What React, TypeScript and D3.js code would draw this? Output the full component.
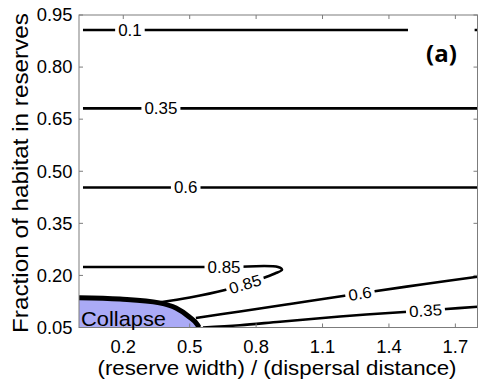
import React from 'react';
import * as d3 from 'd3';

type Pt = [number, number];

// ---- data ----
const xTicks = [0.2, 0.5, 0.8, 1.1, 1.4, 1.7];
const xTickLabels = ['0.2', '0.5', '0.8', '1.1', '1.4', '1.7'];
const yTicks = [0.05, 0.2, 0.35, 0.5, 0.65, 0.8, 0.95];
const yTickLabels = ['0.05', '0.20', '0.35', '0.50', '0.65', '0.80', '0.95'];

const collapseBoundary: Pt[] = [
  [0, 0.136], [0.185, 0.132], [0.363, 0.121], [0.438, 0.106],
  [0.497, 0.081], [0.536, 0.057], [0.542, 0.05],
];

const contour010: Pt[] = [[0.018, 0.907], [0.23, 0.907], [1.486, 0.907]];
const contour010Edge: Pt[] = [[1.787, 0.907], [1.8, 0.907]];
const contour035Top: Pt[] = [[0.018, 0.681], [0.37, 0.681], [1.8, 0.681]];
const contour060Top: Pt[] = [[0.018, 0.453], [0.482, 0.453], [1.8, 0.453]];
const contour085: Pt[] = [
  [0.018, 0.2242], [0.655, 0.2242], [0.899, 0.2242], [0.917, 0.2162],
  [0.885, 0.2055], [0.827, 0.1911], [0.75, 0.1753], [0.659, 0.158],
  [0.501, 0.1364], [0.361, 0.122],
];
const contour060Low: Pt[] = [
  [0.528, 0.0774], [0.727, 0.0961], [0.953, 0.1177], [1.192, 0.1407],
  [1.269, 0.1479], [1.328, 0.1537], [1.563, 0.1753], [1.8, 0.1963],
];
const contour035Low: Pt[] = [
  [0.56, 0.05], [0.727, 0.0563], [0.908, 0.0667], [1.179, 0.0817],
  [1.486, 0.0955], [1.565, 0.099], [1.644, 0.1024], [1.8, 0.1099],
];

const contours: Pt[][] = [
  contour010, contour010Edge, contour035Top, contour060Top,
  contour085, contour060Low, contour035Low,
];

const labelTexts = ['0.1', '0.35', '0.6', '0.85', '0.85', '0.6', '0.35'];
const labelPoints: Pt[] = [
  [0.23, 0.907], [0.37, 0.681], [0.482, 0.453], [0.655, 0.2242],
  [0.75, 0.1753], [1.269, 0.1479], [1.565, 0.099],
];
const labelContourIndex = [0, 2, 3, 4, 4, 5, 6];

// ---- layout ----
const W = 478;
const H = 383;
const left = 79;
const right = 477.5;
const top = 15;
const bottom = 327.5;

const x = d3.scaleLinear().domain([0, 1.8]).range([left, right]);
const y = d3.scaleLinear().domain([0.05, 0.95]).range([bottom, top]);

const FONT = '"Liberation Sans", Arial, Helvetica, sans-serif';

function textWidth(s: string, fs: number) {
  let w = 0;
  for (const c of s) w += c === '.' ? 0.278 : 0.556;
  return w * fs;
}

function labelAngle(points: Pt[], lx: number, ly: number) {
  let best = 0;
  let bd = Infinity;
  points.forEach((p, i) => {
    const d = (x(p[0]) - x(lx)) ** 2 + (y(p[1]) - y(ly)) ** 2;
    if (d < bd) { bd = d; best = i; }
  });
  const a = points[Math.max(0, best - 1)];
  const b = points[Math.min(points.length - 1, best + 1)];
  let ang = (Math.atan2(y(b[1]) - y(a[1]), x(b[0]) - x(a[0])) * 180) / Math.PI;
  if (ang > 90) ang -= 180;
  if (ang < -90) ang += 180;
  return ang;
}

export default function App() {
  const line = d3
    .line<Pt>()
    .x((d) => x(d[0]))
    .y((d) => y(d[1]))
    .curve(d3.curveCatmullRom.alpha(0.5));

  const boundaryLine = d3
    .line<Pt>()
    .x((d) => x(d[0]))
    .y((d) => y(d[1]))
    .curve(d3.curveMonotoneX);

  const boundaryArea = d3
    .area<Pt>()
    .x((d) => x(d[0]))
    .y0(y(0.05))
    .y1((d) => y(d[1]))
    .curve(d3.curveMonotoneX);

  const labelFs = 16;
  const labelScale = 1.06;
  const tickFs = 17.5;
  const tickScale = 1.05;
  const frame = '#7c7c7c';

  return (
    <svg
      width={W}
      height={H}
      style={{ position: 'absolute', left: 0, top: 0, background: '#fff' }}
      fontFamily={FONT}
    >
      <defs>
        <clipPath id="plotClip">
          <rect x={left} y={top} width={right - left} height={bottom - top} />
        </clipPath>
      </defs>
      <rect x={0} y={0} width={W} height={H} fill="#fff" />

      <g clipPath="url(#plotClip)">
        <path d={boundaryArea(collapseBoundary) || ''} fill="#aaaaf6" />
        {contours.map((c, i) => (
          <path key={i} d={line(c) || ''} fill="none" stroke="#000" strokeWidth={2.6} />
        ))}
        <path d={boundaryLine(collapseBoundary) || ''} fill="none" stroke="#000" strokeWidth={5} />
      </g>

      {/* contour labels */}
      {labelPoints.map((p, i) => {
        const ang = labelAngle(contours[labelContourIndex[i]], p[0], p[1]);
        const tw = textWidth(labelTexts[i], labelFs) * labelScale;
        return (
          <g key={i} transform={`translate(${x(p[0])},${y(p[1])}) rotate(${ang})`}>
            <rect x={-tw / 2 - 3} y={-5} width={tw + 6} height={10} fill="#fff" />
            <text
              transform={`scale(${labelScale},1)`}
              textAnchor="middle"
              y={labelFs * 0.358}
              fontSize={labelFs}
              fill="#000"
            >
              {labelTexts[i]}
            </text>
          </g>
        );
      })}

      {/* frame */}
      <rect x={left} y={top} width={right - left} height={bottom - top} fill="none" stroke={frame} strokeWidth={1} />
      {xTicks.map((t, i) => (
        <g key={'xt' + i}>
          <line x1={x(t)} x2={x(t)} y1={bottom} y2={bottom - 4} stroke={frame} />
          <line x1={x(t)} x2={x(t)} y1={top} y2={top + 4} stroke={frame} />
          <text
            transform={`translate(${x(t)},352.5) scale(${tickScale},1)`}
            textAnchor="middle"
            fontSize={tickFs}
            fill="#000"
          >
            {xTickLabels[i]}
          </text>
        </g>
      ))}
      {yTicks.map((t, i) => (
        <g key={'yt' + i}>
          <line x1={left} x2={left + 4} y1={y(t)} y2={y(t)} stroke={frame} />
          <line x1={right} x2={right - 4} y1={y(t)} y2={y(t)} stroke={frame} />
          <text
            transform={`translate(72.5,${y(t) + tickFs * 0.358}) scale(${tickScale},1)`}
            textAnchor="end"
            fontSize={tickFs}
            fill="#000"
          >
            {yTickLabels[i]}
          </text>
        </g>
      ))}

      {/* collapse label */}
      <text x={81} y={326} fontSize={21} textLength={85} lengthAdjust="spacingAndGlyphs" fill="#000">
        Collapse
      </text>

      {/* panel letter */}
      <text
        x={441.5}
        y={62}
        textAnchor="middle"
        fontSize={24}
        fontWeight="bold"
        fontFamily='"Open Sans", sans-serif'
        fill="#000"
      >
        (a)
      </text>

      {/* axis titles */}
      <text
        x={277}
        y={375}
        textAnchor="middle"
        fontSize={21}
        textLength={359}
        lengthAdjust="spacingAndGlyphs"
        fill="#000"
      >
        (reserve width) / (dispersal distance)
      </text>
      <text
        transform={`translate(27.5,173) rotate(-90)`}
        textAnchor="middle"
        fontSize={22.5}
        textLength={320}
        lengthAdjust="spacingAndGlyphs"
        fill="#000"
      >
        Fraction of habitat in reserves
      </text>
    </svg>
  );
}
